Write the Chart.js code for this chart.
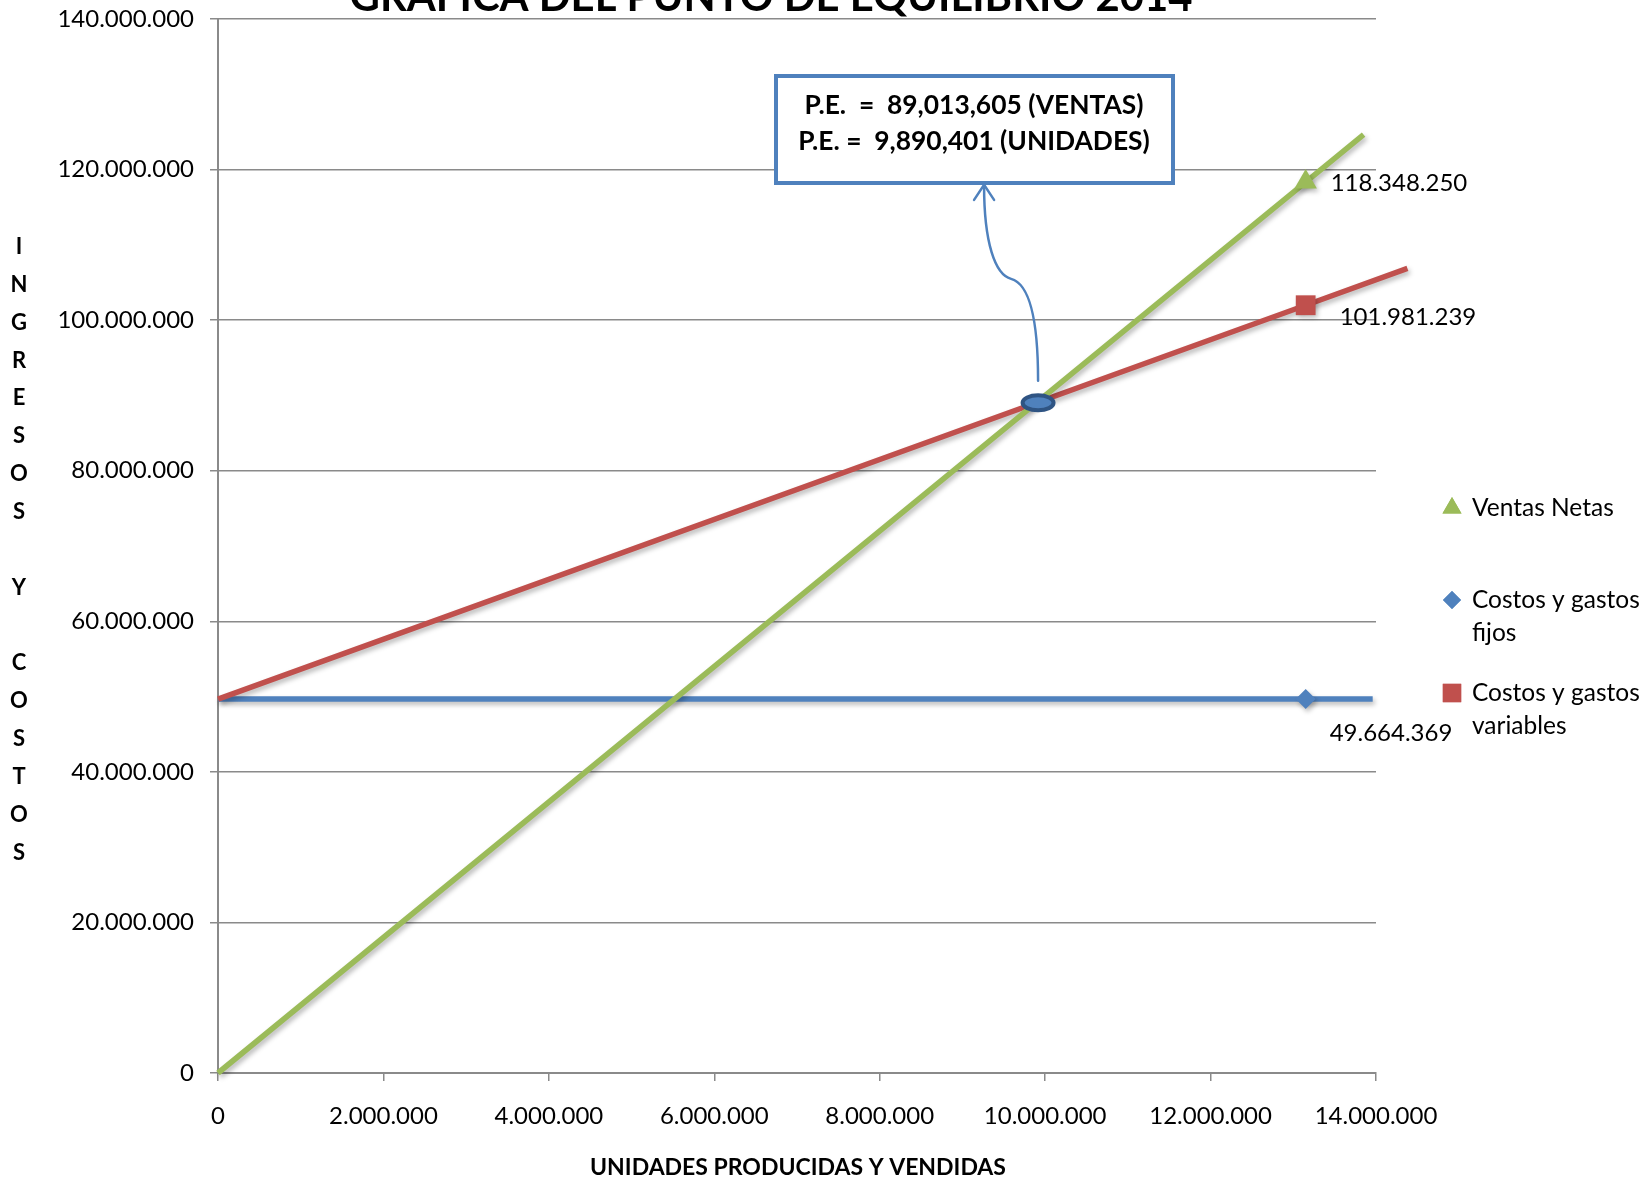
<!DOCTYPE html>
<html>
<head>
<meta charset="utf-8">
<script src="https://cdn.jsdelivr.net/npm/chart.js@4.4.1/dist/chart.umd.min.js"></script>
<style>
  html, body { margin: 0; padding: 0; background: #ffffff; }
  #wrap { width: 1648px; height: 1182px; position: relative; overflow: hidden; }
</style>
</head>
<body>
<div id="wrap"><canvas id="c" width="1648" height="1182"></canvas></div>
<script>
// ---- Textos ----
const chartTitle = 'GRAFICA DEL PUNTO DE EQUILIBRIO 2014';
const xAxisTitle = 'UNIDADES PRODUCIDAS Y VENDIDAS';
const yAxisTitle = 'INGRESOS Y COSTOS';
const peLines = ['P.E.  =  89,013,605 (VENTAS)', 'P.E. =  9,890,401 (UNIDADES)'];

// ---- Series (unidades en X, pesos en Y) ----
const ventasX = [0, 13149806, 13850000];
const ventasY = [0, 118348250, 124650000];
const fijosX = [0, 13149806, 13960000];
const fijosY = [49664369, 49664369, 49664369];
const variablesX = [0, 13149806, 14380000];
const variablesY = [49664369, 101981239, 106870000];
const markerIndex = 1;

// ---- Punto de equilibrio ----
const peUnidades = 9890401;
const peVentas = 89013605;

// ---- Marcas de los ejes ----
const xTickValues = [0, 2000000, 4000000, 6000000, 8000000, 10000000, 12000000, 14000000];
const yTickValues = [0, 20000000, 40000000, 60000000, 80000000, 100000000, 120000000, 140000000];

const FONT = 'Lato, "Open Sans", "DejaVu Sans", sans-serif';
const GRID = '#8a8a8a';
const GREEN = '#9BBB59', RED = '#C0504D', BLUE = '#4F81BD';

function miles(v) {
  return String(Math.round(v)).replace(/\B(?=(\d{3})+(?!\d))/g, '.');
}
function pairs(xs, ys) { return xs.map((x, i) => ({ x: x, y: ys[i] })); }
function onlyMarker(r) { return ventasX.map((_, i) => (i === markerIndex ? r : 0)); }

const datasets = [
  { label: 'Ventas Netas', data: pairs(ventasX, ventasY), borderColor: GREEN, backgroundColor: GREEN,
    pointStyle: 'triangle', pointRadius: onlyMarker(13), labelOffset: [25, 1] },
  { label: 'Costos y gastos variables', data: pairs(variablesX, variablesY), borderColor: RED, backgroundColor: RED,
    pointStyle: 'rect', pointRadius: onlyMarker(14), labelOffset: [34, 12] },
  { label: 'Costos y gastos fijos', data: pairs(fijosX, fijosY), borderColor: BLUE, backgroundColor: BLUE,
    pointStyle: 'rectRot', pointRadius: onlyMarker(10), labelOffset: [24, 34] }
].map(d => Object.assign({
  borderWidth: 5.5, tension: 0, clip: false, pointBorderWidth: 0, pointHoverRadius: 0,
  pointBackgroundColor: d.backgroundColor, pointBorderColor: d.borderColor
}, d));

const legendOrder = [
  { label: 'Ventas Netas', lines: ['Ventas Netas'], y: 508 },
  { label: 'Costos y gastos fijos', lines: ['Costos y gastos', 'fijos'], y: 600 },
  { label: 'Costos y gastos variables', lines: ['Costos y gastos', 'variables'], y: 693 }
];

// Sombra suave bajo las líneas
const lineShadow = {
  id: 'lineShadow',
  beforeDatasetDraw(chart) {
    const ctx = chart.ctx;
    ctx.save();
    ctx.shadowColor = 'rgba(0,0,0,0.28)';
    ctx.shadowBlur = 5;
    ctx.shadowOffsetX = 2;
    ctx.shadowOffsetY = 3;
  },
  afterDatasetDraw(chart) { chart.ctx.restore(); }
};

function fitFont(ctx, text, weight, targetW) {
  ctx.font = weight + ' 100px ' + FONT;
  const w = ctx.measureText(text).width;
  return 100 * targetW / w;
}

const decorations = {
  id: 'decorations',
  afterDraw(chart) {
    const ctx = chart.ctx;
    const xs = chart.scales.x, ys = chart.scales.y;
    ctx.save();
    ctx.fillStyle = '#000';

    // Título (parte superior recortada)
    let size = fitFont(ctx, chartTitle, 'bold', 843);
    ctx.font = 'bold ' + size + 'px ' + FONT;
    ctx.textAlign = 'center';
    ctx.textBaseline = 'alphabetic';
    ctx.fillText(chartTitle, 771, 11);

    // Título del eje Y, letra por letra
    ctx.font = 'bold 22px ' + FONT;
    ctx.textBaseline = 'middle';
    yAxisTitle.split('').forEach((ch, i) => {
      if (ch !== ' ') ctx.fillText(ch, 19, 247 + i * 37.85);
    });

    // Título del eje X
    ctx.font = 'bold 23px ' + FONT;
    ctx.fillText(xAxisTitle, 798, 1168);

    // Etiquetas de datos
    ctx.font = '24px ' + FONT;
    ctx.textAlign = 'left';
    chart.data.datasets.forEach((ds, di) => {
      const el = chart.getDatasetMeta(di).data[markerIndex];
      const v = ds.data[markerIndex].y;
      ctx.fillText(miles(v), el.x + ds.labelOffset[0], el.y + ds.labelOffset[1]);
    });

    // Punto de equilibrio
    const px = xs.getPixelForValue(peUnidades);
    const py = ys.getPixelForValue(peVentas);

    // Flecha curva hacia el recuadro
    ctx.strokeStyle = BLUE;
    ctx.lineWidth = 2.5;
    ctx.lineCap = 'round';
    ctx.beginPath();
    ctx.moveTo(px + 2, py - 22);
    ctx.bezierCurveTo(px + 2, py - 70, px - 3, py - 118, px - 25, py - 124);
    ctx.bezierCurveTo(px - 41, py - 128, px - 52, py - 160, px - 52, py - 217);
    ctx.stroke();
    ctx.beginPath();
    ctx.moveTo(px - 62, py - 203);
    ctx.lineTo(px - 52, py - 218);
    ctx.lineTo(px - 42, py - 203);
    ctx.stroke();

    // Elipse del punto
    ctx.beginPath();
    ctx.ellipse(px + 2, py, 15.5, 7.5, 0, 0, Math.PI * 2);
    ctx.fillStyle = BLUE;
    ctx.fill();
    ctx.lineWidth = 4;
    ctx.strokeStyle = '#2F5483';
    ctx.stroke();

    // Recuadro
    ctx.fillStyle = '#fff';
    ctx.fillRect(776, 76, 397, 107);
    ctx.lineWidth = 4;
    ctx.strokeStyle = BLUE;
    ctx.strokeRect(776, 76, 397, 107);
    ctx.fillStyle = '#000';
    size = fitFont(ctx, peLines[0], 'bold', 339);
    ctx.font = 'bold ' + size + 'px ' + FONT;
    ctx.textAlign = 'center';
    ctx.textBaseline = 'middle';
    ctx.fillText(peLines[0], 974, 105);
    ctx.fillText(peLines[1], 974, 141);

    // Leyenda
    ctx.font = '24.5px ' + FONT;
    ctx.textAlign = 'left';
    legendOrder.forEach(item => {
      const ds = chart.data.datasets.find(d => d.label === item.label);
      const r = ds.pointStyle === 'triangle' ? 11 : ds.pointStyle === 'rect' ? 13 : 9;
      ctx.fillStyle = ds.backgroundColor;
      ctx.beginPath();
      Chart.helpers.drawPoint(ctx, { pointStyle: ds.pointStyle, radius: r, borderWidth: 0, rotation: 0 }, 1452, item.y);
      ctx.fill();
      ctx.fillStyle = '#000';
      item.lines.forEach((ln, i) => ctx.fillText(ln, 1472, item.y + i * 33));
    });

    ctx.restore();
  }
};

new Chart(document.getElementById('c'), {
  type: 'line',
  data: { datasets: datasets },
  options: {
    responsive: false,
    animation: false,
    layout: { padding: { top: 19, right: 272, left: 0, bottom: 0 } },
    plugins: { legend: { display: false }, tooltip: { enabled: false }, title: { display: false } },
    scales: {
      x: {
        type: 'linear', min: 0, max: 14000000,
        afterBuildTicks: s => { s.ticks = xTickValues.map(v => ({ value: v })); },
        afterFit: s => { s.height = 109; s.paddingLeft = 0; s.paddingRight = 0; },
        grid: { drawOnChartArea: false, drawTicks: true, tickLength: 8, color: GRID, lineWidth: 1.5 },
        border: { display: true, color: GRID, width: 2 },
        ticks: { padding: 21, color: '#000', font: { family: FONT, size: 24 }, maxRotation: 0, autoSkip: false,
                 callback: v => miles(v) }
      },
      y: {
        type: 'linear', min: 0, max: 140000000,
        afterBuildTicks: s => { s.ticks = yTickValues.map(v => ({ value: v })); },
        afterFit: s => { s.width = 218; s.paddingTop = 0; s.paddingBottom = 0; },
        grid: { drawOnChartArea: true, drawTicks: true, tickLength: 8, color: GRID, lineWidth: 1.5 },
        border: { display: true, color: GRID, width: 2 },
        ticks: { padding: 16, color: '#000', font: { family: FONT, size: 24 }, autoSkip: false,
                 callback: v => miles(v) }
      }
    }
  },
  plugins: [lineShadow, decorations]
});
</script>
</body>
</html>
